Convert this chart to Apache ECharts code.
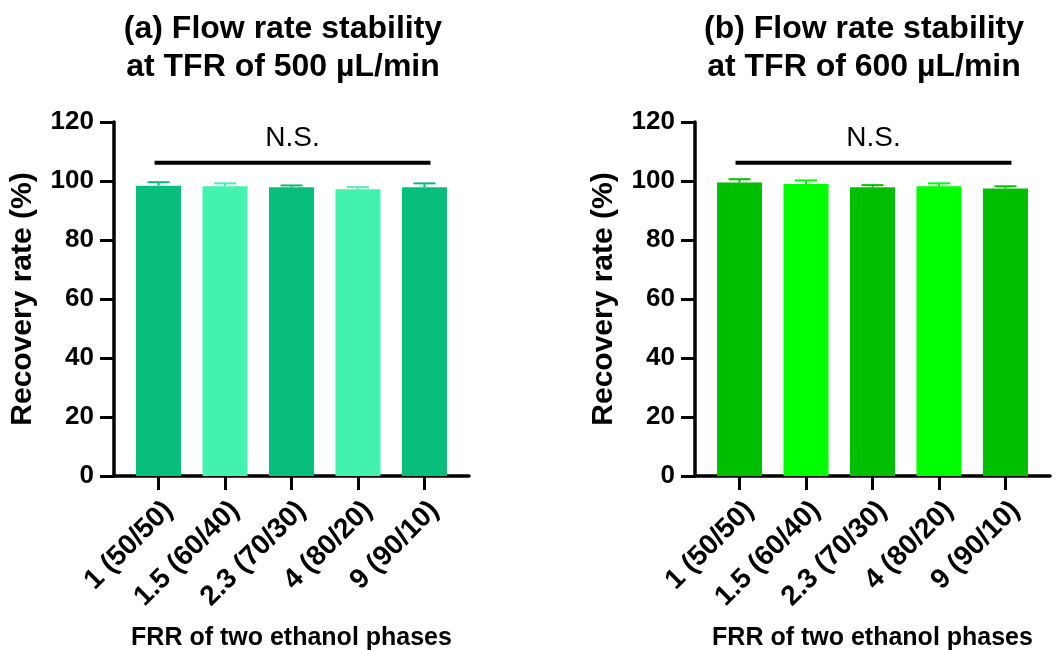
<!DOCTYPE html>
<html>
<head>
<meta charset="utf-8">
<script src="https://cdn.jsdelivr.net/npm/echarts@6/dist/echarts.min.js"></script>
<style>
  html, body { margin: 0; padding: 0; background: #ffffff; }
  #chart { width: 1062px; height: 650px; }
</style>
</head>
<body>
<div id="chart"></div>
<script>
// FRR categories shared by both panels
const categories = ['1 (50/50)', '1.5 (60/40)', '2.3 (70/30)', '4 (80/20)', '9 (90/10)'];

// Panel (a): TFR 500 µL/min — mean recovery (%) and upper error (SD)
const recovery500 = [98.4, 98.2, 97.9, 97.2, 97.9];
const error500 = [1.2, 1.0, 0.6, 0.7, 1.3];

// Panel (b): TFR 600 µL/min
const recovery600 = [99.5, 99.0, 97.9, 98.2, 97.5];
const error600 = [1.1, 1.2, 0.7, 1.0, 0.7];

// Height of the "not significant" bracket (%)
const nsLevel = 106.2;

const titles = [
  '(a) Flow rate stability\nat TFR of 500 µL/min',
  '(b) Flow rate stability\nat TFR of 600 µL/min'
];

const palettes = [
  ['#07BE7C', '#43F2AE'],
  ['#00BF00', '#00FF00']
];

const FONT = "'Liberation Sans', Arial, Helvetica, sans-serif";
const gridLefts = [114, 695];
const panels = [
  { values: recovery500, errors: error500 },
  { values: recovery600, errors: error600 }
];

const grids = [], xAxes = [], yAxes = [], series = [], graphics = [];

panels.forEach((p, k) => {
  const colors = palettes[k];
  grids.push({ left: gridLefts[k], top: 122, width: 355, height: 354, outerBoundsMode: 'none', containLabel: false });

  xAxes.push({
    type: 'value',
    gridIndex: k,
    min: -0.67,
    max: 4.67,
    name: 'FRR of two ethanol phases',
    nameLocation: 'middle',
    nameGap: 150,
    nameTextStyle: { fontFamily: FONT, fontWeight: 'bold', fontSize: 25, color: '#000' },
    axisLine: { onZero: false, lineStyle: { color: '#000', width: 3.5 } },
    axisTick: { show: true, length: 14, lineStyle: { color: '#000', width: 3 }, customValues: [0, 1, 2, 3, 4] },
    axisLabel: {
      customValues: [0, 1, 2, 3, 4],
      rotate: 45,
      margin: 20,
      verticalAlign: 'top',
      fontFamily: FONT, fontWeight: 'bold', fontSize: 28, color: '#000',
      formatter: v => categories[Math.round(v)]
    },
    splitLine: { show: false }
  });

  yAxes.push({
    type: 'value',
    gridIndex: k,
    min: 0, max: 120, interval: 20,
    name: 'Recovery rate (%)',
    nameLocation: 'middle',
    nameGap: 76,
    nameTextStyle: { fontFamily: FONT, fontWeight: 'bold', fontSize: 30, color: '#000' },
    axisLine: { show: true, onZero: false, lineStyle: { color: '#000', width: 3.5 } },
    axisTick: { show: true, length: 14, lineStyle: { color: '#000', width: 3 } },
    axisLabel: { margin: 20, fontFamily: FONT, fontWeight: 'bold', fontSize: 26, color: '#000' },
    splitLine: { show: false }
  });

  // bars
  series.push({
    type: 'bar',
    xAxisIndex: k, yAxisIndex: k,
    barWidth: 45,
    data: p.values.map((v, i) => ({ value: [i, v], itemStyle: { color: colors[i % 2] } })),
    z: 2
  });

  // upper error bars
  series.push({
    type: 'custom',
    xAxisIndex: k, yAxisIndex: k,
    data: p.values.map((v, i) => [i, v, p.errors[i]]),
    encode: { x: 0, y: 1 },
    z: 3,
    renderItem: (params, api) => {
      const i = api.value(0), m = api.value(1), e = api.value(2);
      const top = api.coord([i, m + e]);
      const base = api.coord([i, m]);
      const c = colors[params.dataIndex % 2];
      const half = 11;
      return {
        type: 'group',
        children: [
          { type: 'line', shape: { x1: top[0], y1: top[1], x2: base[0], y2: base[1] }, style: { stroke: c, lineWidth: 2 } },
          { type: 'line', shape: { x1: top[0] - half, y1: top[1], x2: top[0] + half, y2: top[1] }, style: { stroke: c, lineWidth: 2 } }
        ]
      };
    }
  });

  // N.S. bracket across all groups
  series.push({
    type: 'custom',
    xAxisIndex: k, yAxisIndex: k,
    data: [[0, categories.length - 1, nsLevel]],
    encode: { x: [0, 1], y: 2 },
    z: 4,
    renderItem: (params, api) => {
      const a = api.coord([api.value(0), api.value(2)]);
      const b = api.coord([api.value(1), api.value(2)]);
      return {
        type: 'group',
        children: [
          { type: 'line', shape: { x1: a[0] - 4, y1: a[1], x2: b[0] + 6, y2: b[1] }, style: { stroke: '#000', lineWidth: 4 } },
          { type: 'text', style: { text: 'N.S.', x: (a[0] + b[0]) / 2 + 1, y: a[1] - 10, textAlign: 'center', textVerticalAlign: 'bottom', font: '28px ' + FONT, fill: '#000' } }
        ]
      };
    }
  });

  graphics.push({
    type: 'text',
    x: gridLefts[k] + 169,
    y: 10,
    style: {
      text: titles[k],
      textAlign: 'center',
      textVerticalAlign: 'top',
      font: 'bold 32px ' + FONT,
      lineHeight: 38,
      fill: '#000'
    }
  });
});

const chart = echarts.init(document.getElementById('chart'), null, { renderer: 'canvas' });
chart.setOption({
  animation: false,
  backgroundColor: '#ffffff',
  grid: grids,
  xAxis: xAxes,
  yAxis: yAxes,
  series: series,
  graphic: graphics
});
</script>
</body>
</html>
